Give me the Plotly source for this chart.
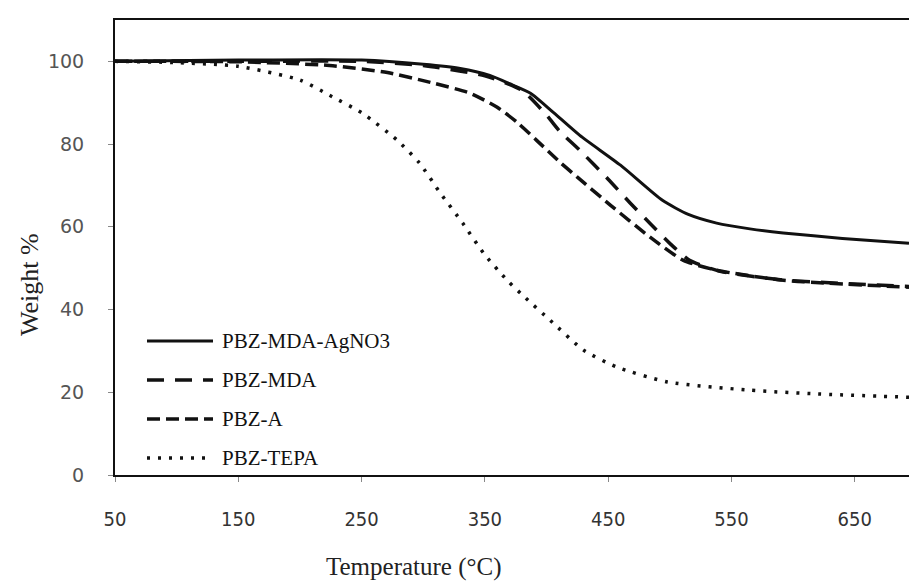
import plotly.graph_objects as go

# ---- data ----
t_agno3 = [50, 150, 250, 300, 330, 354, 370, 387, 405, 427, 460, 494, 515, 538, 565, 592, 640, 694]
w_agno3 = [100, 100.3, 100.3, 99.3, 98.3, 96.6, 94.6, 92.3, 87.8, 82.1, 74.9, 66.4, 63.0, 60.9, 59.5, 58.5, 57.2, 56.0]

t_mda = [50, 150, 250, 300, 350, 380, 400, 411, 427, 450, 468, 485, 500, 516, 540, 590, 694]
w_mda = [100, 100, 100, 99, 96.5, 93, 87, 83, 78.5, 71.5, 65.7, 60.5, 56, 51.9, 49.3, 47.2, 45.6]

t_a = [50, 150, 224, 271, 306, 338, 360, 376, 392, 411, 425, 452, 484, 511, 538, 592, 694]
w_a = [100, 99.9, 99.0, 97.3, 94.9, 92.3, 88.9, 85.3, 80.9, 75.6, 72.0, 65.2, 57.5, 51.9, 49.5, 47.1, 45.4]

t_tepa = [50, 100, 150, 200, 224, 251, 279, 297, 314, 332, 349, 368, 383, 403, 430, 457, 498, 565, 620, 694]
w_tepa = [100, 99.7, 98.8, 95.5, 91.8, 87.4, 80.9, 75.4, 68.1, 60.9, 53.6, 47.1, 42.8, 37.4, 30.2, 26.1, 22.5, 20.5, 19.6, 18.8]

series_names = ["PBZ-MDA-AgNO3", "PBZ-MDA", "PBZ-A", "PBZ-TEPA"]
x_ticks = [50, 150, 250, 350, 450, 550, 650]
y_ticks = [0, 20, 40, 60, 80, 100]

# ---- styles ----
INK = "#111111"
SERIF = "Liberation Serif, Times New Roman, serif"
styles = [
    dict(width=3, dash="solid"),
    dict(width=3.5, dash="17px,11px"),
    dict(width=3.5, dash="13px,6px"),
    dict(width=3.5, dash="3px,8px"),
]

W, H = 909, 583
L, R, T, B = 115, 0, 20, 108

fig = go.Figure()
for (tx, wy), name, st in zip(
    [(t_agno3, w_agno3), (t_mda, w_mda), (t_a, w_a), (t_tepa, w_tepa)], series_names, styles
):
    fig.add_trace(go.Scatter(
        x=tx, y=wy, name=name, mode="lines",
        line=dict(color=INK, width=st["width"], dash=st["dash"], shape="spline", smoothing=0.6),
        showlegend=False,
    ))

pw, ph = W - L - R, H - T - B


def px2paper(x, y):
    return (x - L) / pw, (H - B - y) / ph


# manual legend (long line samples like the reference)
shapes = []
annotations = []
rows_y = [341, 380, 419, 458]
for name, st, ry in zip(series_names, styles, rows_y):
    x0, y0 = px2paper(147, ry)
    x1, _ = px2paper(213, ry)
    shapes.append(dict(type="line", xref="paper", yref="paper", x0=x0, x1=x1, y0=y0, y1=y0,
                       line=dict(color=INK, width=st["width"], dash=st["dash"])))
    tx, ty = px2paper(220, ry)
    annotations.append(dict(xref="paper", yref="paper", x=tx, y=ty, text=name, showarrow=False,
                            xanchor="left", yanchor="middle",
                            font=dict(family=SERIF, size=21, color=INK)))

# axis titles
ax, ay = px2paper(414, 567)
annotations.append(dict(xref="paper", yref="paper", x=ax, y=ay, text="Temperature (°C)", showarrow=False,
                        xanchor="center", yanchor="middle",
                        font=dict(family=SERIF, size=25, color="#222")))
bx, by = px2paper(30, 285)
annotations.append(dict(xref="paper", yref="paper", x=bx, y=by, text="Weight %", showarrow=False,
                        textangle=-90, xanchor="center", yanchor="middle",
                        font=dict(family=SERIF, size=26, color="#222")))

fig.update_layout(
    width=W, height=H,
    margin=dict(l=L, r=R, t=T, b=B, pad=0),
    paper_bgcolor="white", plot_bgcolor="white",
    shapes=shapes, annotations=annotations,
    showlegend=False,
    xaxis=dict(range=[50, 694], tickvals=x_ticks, ticktext=[str(v) for v in x_ticks],
               showgrid=False, zeroline=False, showline=True, linecolor=INK, linewidth=2,
               mirror=True, ticks="outside", ticklen=5, tickcolor="#888", tickwidth=1,
               tickfont=dict(family="Liberation Sans Narrow, Arial Narrow, DejaVu Sans Condensed, sans-serif",
                             size=20, color="#333"),
               ticklabelstandoff=20),
    yaxis=dict(range=[0, 110], tickvals=y_ticks,
               showgrid=False, zeroline=False, showline=True, linecolor=INK, linewidth=2,
               ticks="outside", ticklen=5, tickcolor="#888", tickwidth=1,
               tickfont=dict(family="DejaVu Sans, Verdana, sans-serif", size=19, color="#555"),
               ticklabelstandoff=20),
)

fig.write_html("out.html", config={"displayModeBar": False},
               post_script="document.body.style.margin='0';document.body.style.overflow='hidden';")
